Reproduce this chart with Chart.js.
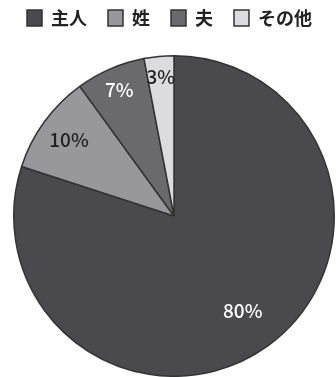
<!DOCTYPE html>
<html><head><meta charset="utf-8">
<script src="https://cdn.jsdelivr.net/npm/chart.js@4"></script>
<style>html,body{margin:0;padding:0;background:#fff}#wrap{width:336px;height:377px}</style>
</head><body><div id="wrap"><canvas id="c" width="336" height="377"></canvas></div>
<script>
const categories = ['主人', '姓', '夫', 'その他'];
const values = [80, 10, 7, 3];
const valueLabels = ['80%', '10%', '7%', '3%'];
const colors = ['#4a4a4c', '#98989a', '#6a6a6c', '#dcdcde'];
const labelColors = ['#ffffff', '#222222', '#ffffff', '#222222'];
const labelRadius = [0.73, 0.81, 0.86, 0.87];

// Place the plot area (pie box) below the legend, as in the reference layout
const plotAreaPlugin = {
  id: 'plotArea',
  afterLayout(chart) {
    const a = chart.chartArea;
    a.left = 13; a.right = 335; a.top = 55; a.bottom = 377;
    a.width = a.right - a.left; a.height = a.bottom - a.top;
  }
};

const labelPlugin = {
  id: 'sliceLabels',
  afterDatasetsDraw(chart) {
    const ctx = chart.ctx;
    const meta = chart.getDatasetMeta(0);
    ctx.save();
    ctx.font = '500 19px "Noto Sans CJK JP"';
    ctx.textAlign = 'center';
    ctx.textBaseline = 'middle';
    meta.data.forEach((arc, i) => {
      const p = arc.getProps(['x','y','startAngle','endAngle','outerRadius'], true);
      const a = (p.startAngle + p.endAngle) / 2;
      const r = p.outerRadius * labelRadius[i];
      ctx.fillStyle = labelColors[i];
      ctx.fillText(valueLabels[i], p.x + Math.cos(a) * r, p.y + Math.sin(a) * r);
    });
    ctx.restore();
  }
};

new Chart(document.getElementById('c'), {
  type: 'pie',
  data: {
    labels: categories,
    datasets: [{
      data: values,
      backgroundColor: colors,
      borderColor: '#333333',
      borderWidth: 1.5
    }]
  },
  options: {
    responsive: false,
    animation: false,
    layout: { padding: { left: 3, right: 0, top: -12, bottom: 0 } },
    plugins: {
      tooltip: { enabled: false },
      legend: {
        position: 'top',
        labels: {
          boxWidth: 15,
          boxHeight: 16,
          padding: 21,
          color: '#222',
          font: { family: '"Noto Sans CJK JP"', size: 18, weight: 'bold' },
          generateLabels(chart) {
            return categories.map((c, i) => ({
              text: c,
              fillStyle: colors[i],
              strokeStyle: '#333333',
              lineWidth: 1.5,
              fontColor: '#222',
              index: i,
              hidden: false
            }));
          }
        }
      }
    }
  },
  plugins: [plotAreaPlugin, labelPlugin]
});
</script></body></html>
